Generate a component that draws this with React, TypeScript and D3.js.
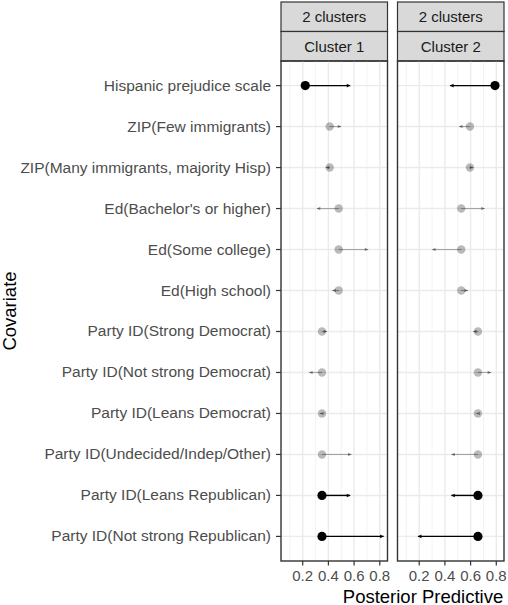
import * as d3 from 'd3';

// Covariates, top to bottom
const covariates: string[] = [
  'Hispanic prejudice scale',
  'ZIP(Few immigrants)',
  'ZIP(Many immigrants, majority Hisp)',
  "Ed(Bachelor's or higher)",
  'Ed(Some college)',
  'Ed(High school)',
  'Party ID(Strong Democrat)',
  'Party ID(Not strong Democrat)',
  'Party ID(Leans Democrat)',
  'Party ID(Undecided/Indep/Other)',
  'Party ID(Leans Republican)',
  'Party ID(Not strong Republican)',
];

// baseline point (circle) and shifted value (arrow head) per cluster
const cluster1Point: number[] = [0.22, 0.41, 0.41, 0.48, 0.48, 0.48, 0.35, 0.35, 0.35, 0.35, 0.35, 0.35];
const cluster1Arrow: number[] = [0.57, 0.5, 0.38, 0.31, 0.71, 0.43, 0.39, 0.25, 0.335, 0.58, 0.57, 0.83];
const cluster2Point: number[] = [0.79, 0.595, 0.595, 0.527, 0.527, 0.527, 0.657, 0.657, 0.657, 0.657, 0.657, 0.657];
const cluster2Arrow: number[] = [0.44, 0.51, 0.62, 0.71, 0.3, 0.58, 0.62, 0.76, 0.645, 0.45, 0.45, 0.19];
const highlighted: boolean[] = [true, false, false, false, false, false, false, false, false, false, true, true];

const panelLabels: string[] = ['Cluster 1', 'Cluster 2'];
const outerLabel = '2 clusters';
const xTicks: number[] = [0.2, 0.4, 0.6, 0.8];
const xMinor: number[] = [0.1, 0.3, 0.5, 0.7];

const FONT = '"Liberation Sans", Arial, Helvetica, sans-serif';

export default function App() {
  const width = 508;
  const height = 605;
  const panelTop = 61;
  const panelBottom = 561;
  const panelW = 106.5;
  const panelX = [281, 397.5];
  const stripTop = 2;
  const stripMid = 31.5;

  const x = d3.scaleLinear().domain([0.031, 0.86]).range([0, panelW]);
  const y = d3.scalePoint<string>().domain(covariates).range([panelTop, panelBottom]).padding(0.6);

  const clusters = [
    { point: cluster1Point, arrow: cluster1Arrow },
    { point: cluster2Point, arrow: cluster2Arrow },
  ];

  return (
    <svg width={width} height={height} style={{ position: 'absolute', left: 0, top: 0 }} fontFamily={FONT}>
      <rect width={width} height={height} fill="#fff" />

      {/* y axis labels and ticks */}
      {covariates.map((c) => (
        <g key={c}>
          <text x={271} y={(y(c) || 0) + 5} textAnchor="end" fontSize={15.5} fill="#4D4D4D">{c}</text>
          <line x1={276} x2={281} y1={y(c)} y2={y(c)} stroke="#333" strokeWidth={1.2} />
        </g>
      ))}

      {clusters.map((cl, pi) => {
        const px = panelX[pi];
        return (
          <g key={pi} transform={`translate(${px},0)`}>
            {/* strips */}
            <rect x={0} y={stripTop} width={panelW} height={stripMid - stripTop} fill="#D9D9D9" stroke="#333" strokeWidth={1.2} />
            <text x={panelW / 2} y={stripTop + 20} textAnchor="middle" fontSize={15} fill="#1A1A1A">{outerLabel}</text>
            <rect x={0} y={stripMid} width={panelW} height={panelTop - stripMid} fill="#D9D9D9" stroke="#333" strokeWidth={1.2} />
            <text x={panelW / 2} y={stripMid + 20} textAnchor="middle" fontSize={15} fill="#1A1A1A">{panelLabels[pi]}</text>

            {/* grid */}
            {xMinor.map((t) => (
              <line key={'m' + t} x1={x(t)} x2={x(t)} y1={panelTop} y2={panelBottom} stroke="#F0F0F0" strokeWidth={0.8} />
            ))}
            {xTicks.map((t) => (
              <line key={'M' + t} x1={x(t)} x2={x(t)} y1={panelTop} y2={panelBottom} stroke="#EBEBEB" strokeWidth={1.4} />
            ))}
            {covariates.map((c) => (
              <line key={'h' + c} x1={0} x2={panelW} y1={y(c)} y2={y(c)} stroke="#EBEBEB" strokeWidth={1.4} />
            ))}

            {/* marks */}
            {covariates.map((c, i) => {
              const yy = y(c) || 0;
              const x0 = x(cl.point[i]);
              const x1 = x(cl.arrow[i]);
              const dir = x1 >= x0 ? 1 : -1;
              const hl = highlighted[i];
              const ah = 3.5;
              return (
                <g key={'p' + c}>
                  <line x1={x0} x2={x1} y1={yy} y2={yy} stroke="#000" strokeOpacity={hl ? 1 : 0.3} strokeWidth={hl ? 1.4 : 1.1} />
                  <path
                    d={`M${x1},${yy} L${x1 - dir * ah},${yy - 1.8} L${x1 - dir * ah},${yy + 1.8} Z`}
                    fill="#000"
                    fillOpacity={hl ? 1 : 0.4}
                  />
                  <circle cx={x0} cy={yy} r={hl ? 4.6 : 4.2} fill="#000" fillOpacity={hl ? 1 : 0.27} />
                </g>
              );
            })}

            {/* border */}
            <rect x={0} y={panelTop} width={panelW} height={panelBottom - panelTop} fill="none" stroke="#333" strokeWidth={1.4} />

            {/* x axis */}
            {xTicks.map((t) => (
              <g key={'t' + t}>
                <line x1={x(t)} x2={x(t)} y1={panelBottom} y2={panelBottom + 4.5} stroke="#333" strokeWidth={1.2} />
                <text x={x(t)} y={581} textAnchor="middle" fontSize={15} fill="#4D4D4D">{d3.format('.1f')(t)}</text>
              </g>
            ))}
          </g>
        );
      })}

      <text x={423} y={602.5} textAnchor="middle" fontSize={18.5} fill="#000">Posterior Predictive</text>
      <text transform="translate(16,311) rotate(-90)" textAnchor="middle" fontSize={18.5} fill="#000">Covariate</text>
    </svg>
  );
}
